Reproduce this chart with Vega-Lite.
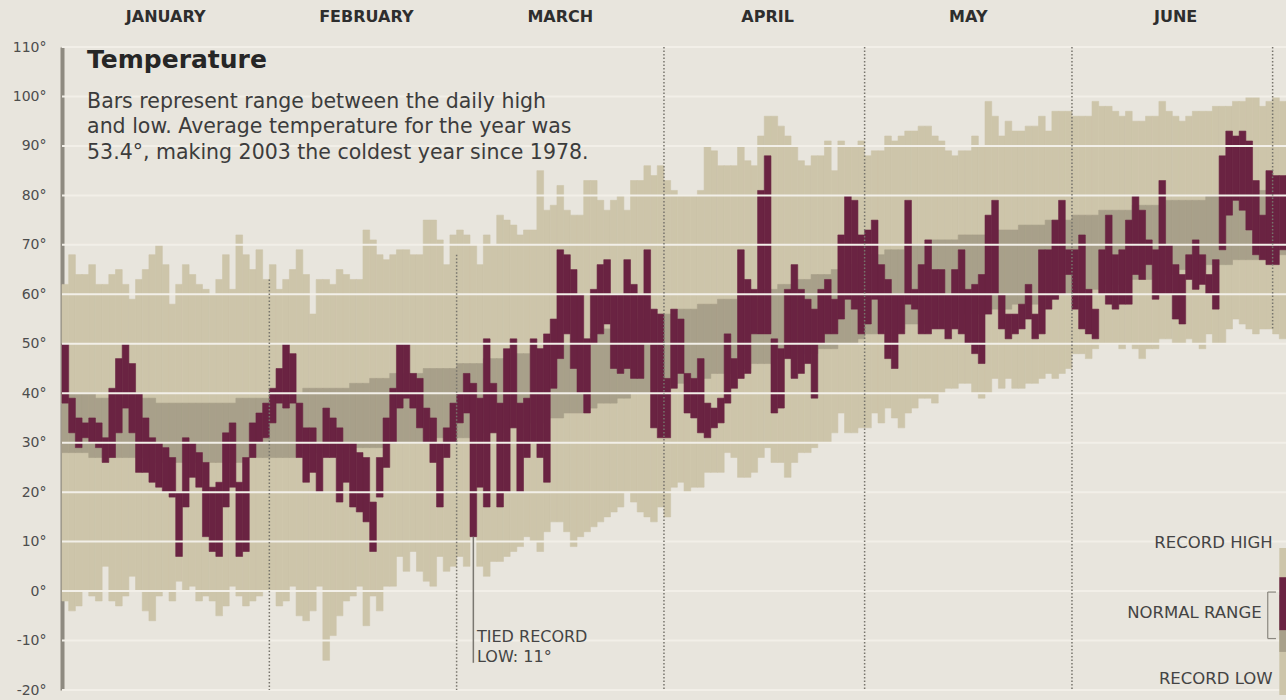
{
  "$schema": "https://vega.github.io/schema/vega-lite/v6.json",
  "width": 1224,
  "height": 643,
  "autosize": {"type": "none"},
  "padding": {"left": 62, "top": 47, "right": 0, "bottom": 10},
  "background": "#e8e5dd",
  "config": {
    "view": {"stroke": null},
    "font": "DejaVu Sans",
    "axisX": {"disable": true},
    "axisY": {
      "values": [-20,-10,0,10,20,30,40,50,60,70,80,90,100,110],
      "labelExpr": "datum.value + '°'",
      "grid": false, "ticks": false,
      "domain": true, "domainColor": "#8e8a80", "domainWidth": 4,
      "labelFont": "DejaVu Sans", "labelFontSize": 14,
      "labelColor": "#4d4d4d", "labelPadding": 16, "labelFlush": false,
      "zindex": 1
    }
  },
  "datasets": {
    "days": [
      {"d":0,"rh":62,"rl":-2,"nh":40,"nl":28,"h":50,"l":38},
      {"d":1,"rh":68,"rl":-4,"nh":40,"nl":28,"h":39,"l":32},
      {"d":2,"rh":64,"rl":-3,"nh":40,"nl":28,"h":35,"l":29},
      {"d":3,"rh":64,"rl":0,"nh":40,"nl":28,"h":34,"l":31},
      {"d":4,"rh":66,"rl":-1,"nh":40,"nl":27,"h":35,"l":30},
      {"d":5,"rh":62,"rl":-2,"nh":39,"nl":27,"h":34,"l":29},
      {"d":6,"rh":62,"rl":5,"nh":39,"nl":27,"h":31,"l":26},
      {"d":7,"rh":64,"rl":-2,"nh":39,"nl":27,"h":41,"l":27},
      {"d":8,"rh":65,"rl":-3,"nh":39,"nl":27,"h":47,"l":32},
      {"d":9,"rh":62,"rl":-1,"nh":39,"nl":27,"h":50,"l":37},
      {"d":10,"rh":59,"rl":3,"nh":39,"nl":27,"h":46,"l":32},
      {"d":11,"rh":63,"rl":0,"nh":39,"nl":27,"h":40,"l":24},
      {"d":12,"rh":65,"rl":-4,"nh":39,"nl":27,"h":35,"l":24},
      {"d":13,"rh":68,"rl":-6,"nh":39,"nl":26,"h":31,"l":22},
      {"d":14,"rh":70,"rl":-1,"nh":38,"nl":26,"h":30,"l":21},
      {"d":15,"rh":66,"rl":0,"nh":38,"nl":26,"h":29,"l":20},
      {"d":16,"rh":58,"rl":-2,"nh":38,"nl":26,"h":27,"l":19},
      {"d":17,"rh":62,"rl":2,"nh":38,"nl":26,"h":20,"l":7},
      {"d":18,"rh":66,"rl":0,"nh":38,"nl":26,"h":31,"l":17},
      {"d":19,"rh":64,"rl":1,"nh":38,"nl":26,"h":30,"l":23},
      {"d":20,"rh":62,"rl":-2,"nh":38,"nl":26,"h":28,"l":21},
      {"d":21,"rh":61,"rl":-1,"nh":38,"nl":26,"h":26,"l":11},
      {"d":22,"rh":60,"rl":-2,"nh":38,"nl":26,"h":21,"l":8},
      {"d":23,"rh":63,"rl":-5,"nh":38,"nl":26,"h":22,"l":7},
      {"d":24,"rh":68,"rl":-3,"nh":38,"nl":26,"h":32,"l":17},
      {"d":25,"rh":61,"rl":1,"nh":38,"nl":26,"h":34,"l":21},
      {"d":26,"rh":72,"rl":-1,"nh":39,"nl":26,"h":22,"l":7},
      {"d":27,"rh":68,"rl":-3,"nh":39,"nl":27,"h":27,"l":8},
      {"d":28,"rh":65,"rl":-2,"nh":39,"nl":27,"h":34,"l":27},
      {"d":29,"rh":69,"rl":-1,"nh":39,"nl":27,"h":36,"l":30},
      {"d":30,"rh":63,"rl":0,"nh":39,"nl":27,"h":38,"l":31},
      {"d":31,"rh":66,"rl":0,"nh":40,"nl":27,"h":41,"l":34},
      {"d":32,"rh":61,"rl":-3,"nh":40,"nl":27,"h":45,"l":38},
      {"d":33,"rh":63,"rl":-2,"nh":40,"nl":27,"h":50,"l":37},
      {"d":34,"rh":65,"rl":1,"nh":40,"nl":27,"h":48,"l":38},
      {"d":35,"rh":69,"rl":-5,"nh":40,"nl":28,"h":38,"l":27},
      {"d":36,"rh":64,"rl":-6,"nh":41,"nl":28,"h":33,"l":22},
      {"d":37,"rh":56,"rl":-4,"nh":41,"nl":28,"h":33,"l":24},
      {"d":38,"rh":63,"rl":1,"nh":41,"nl":28,"h":30,"l":20},
      {"d":39,"rh":63,"rl":-14,"nh":41,"nl":28,"h":37,"l":27},
      {"d":40,"rh":62,"rl":-9,"nh":41,"nl":28,"h":35,"l":27},
      {"d":41,"rh":65,"rl":-5,"nh":41,"nl":28,"h":33,"l":18},
      {"d":42,"rh":64,"rl":-2,"nh":41,"nl":29,"h":30,"l":22},
      {"d":43,"rh":63,"rl":-1,"nh":42,"nl":29,"h":30,"l":17},
      {"d":44,"rh":63,"rl":1,"nh":42,"nl":29,"h":28,"l":16},
      {"d":45,"rh":73,"rl":-7,"nh":42,"nl":29,"h":27,"l":14},
      {"d":46,"rh":71,"rl":-1,"nh":43,"nl":29,"h":18,"l":8},
      {"d":47,"rh":68,"rl":-4,"nh":43,"nl":29,"h":27,"l":19},
      {"d":48,"rh":67,"rl":1,"nh":43,"nl":30,"h":35,"l":25},
      {"d":49,"rh":68,"rl":1,"nh":44,"nl":30,"h":41,"l":30},
      {"d":50,"rh":69,"rl":7,"nh":44,"nl":30,"h":50,"l":37},
      {"d":51,"rh":69,"rl":4,"nh":44,"nl":30,"h":50,"l":39},
      {"d":52,"rh":68,"rl":8,"nh":44,"nl":30,"h":44,"l":37},
      {"d":53,"rh":68,"rl":4,"nh":44,"nl":30,"h":43,"l":33},
      {"d":54,"rh":75,"rl":2,"nh":45,"nl":31,"h":37,"l":30},
      {"d":55,"rh":75,"rl":1,"nh":45,"nl":31,"h":35,"l":26},
      {"d":56,"rh":71,"rl":7,"nh":45,"nl":31,"h":30,"l":17},
      {"d":57,"rh":66,"rl":4,"nh":45,"nl":31,"h":33,"l":27},
      {"d":58,"rh":72,"rl":5,"nh":45,"nl":31,"h":38,"l":30},
      {"d":59,"rh":73,"rl":7,"nh":46,"nl":31,"h":40,"l":34},
      {"d":60,"rh":72,"rl":5,"nh":46,"nl":31,"h":44,"l":36},
      {"d":61,"rh":70,"rl":11,"nh":46,"nl":31,"h":42,"l":11},
      {"d":62,"rh":66,"rl":5,"nh":46,"nl":32,"h":39,"l":21},
      {"d":63,"rh":72,"rl":3,"nh":47,"nl":32,"h":51,"l":17},
      {"d":64,"rh":70,"rl":6,"nh":47,"nl":32,"h":42,"l":32},
      {"d":65,"rh":76,"rl":6,"nh":47,"nl":32,"h":38,"l":17},
      {"d":66,"rh":75,"rl":7,"nh":47,"nl":33,"h":49,"l":20},
      {"d":67,"rh":74,"rl":8,"nh":48,"nl":33,"h":51,"l":33},
      {"d":68,"rh":72,"rl":9,"nh":48,"nl":33,"h":38,"l":20},
      {"d":69,"rh":73,"rl":11,"nh":48,"nl":34,"h":39,"l":27},
      {"d":70,"rh":73,"rl":10,"nh":49,"nl":34,"h":51,"l":30},
      {"d":71,"rh":85,"rl":8,"nh":49,"nl":34,"h":49,"l":27},
      {"d":72,"rh":77,"rl":12,"nh":49,"nl":35,"h":52,"l":22},
      {"d":73,"rh":78,"rl":14,"nh":50,"nl":35,"h":55,"l":41},
      {"d":74,"rh":82,"rl":14,"nh":50,"nl":35,"h":69,"l":47},
      {"d":75,"rh":77,"rl":12,"nh":50,"nl":36,"h":68,"l":52},
      {"d":76,"rh":76,"rl":9,"nh":51,"nl":36,"h":65,"l":45},
      {"d":77,"rh":76,"rl":11,"nh":51,"nl":36,"h":60,"l":40},
      {"d":78,"rh":83,"rl":12,"nh":51,"nl":37,"h":51,"l":36},
      {"d":79,"rh":83,"rl":13,"nh":52,"nl":37,"h":61,"l":50},
      {"d":80,"rh":79,"rl":14,"nh":52,"nl":38,"h":66,"l":52},
      {"d":81,"rh":77,"rl":15,"nh":53,"nl":38,"h":67,"l":54},
      {"d":82,"rh":79,"rl":16,"nh":53,"nl":38,"h":60,"l":45},
      {"d":83,"rh":80,"rl":17,"nh":53,"nl":39,"h":60,"l":44},
      {"d":84,"rh":77,"rl":20,"nh":54,"nl":39,"h":67,"l":45},
      {"d":85,"rh":83,"rl":18,"nh":54,"nl":40,"h":62,"l":43},
      {"d":86,"rh":83,"rl":16,"nh":55,"nl":40,"h":60,"l":43},
      {"d":87,"rh":86,"rl":15,"nh":55,"nl":40,"h":69,"l":50},
      {"d":88,"rh":84,"rl":14,"nh":56,"nl":41,"h":57,"l":33},
      {"d":89,"rh":86,"rl":17,"nh":56,"nl":41,"h":56,"l":31},
      {"d":90,"rh":83,"rl":15,"nh":56,"nl":42,"h":43,"l":31},
      {"d":91,"rh":81,"rl":21,"nh":56,"nl":42,"h":57,"l":41},
      {"d":92,"rh":80,"rl":22,"nh":57,"nl":42,"h":55,"l":44},
      {"d":93,"rh":80,"rl":20,"nh":57,"nl":43,"h":44,"l":36},
      {"d":94,"rh":80,"rl":21,"nh":57,"nl":43,"h":43,"l":35},
      {"d":95,"rh":81,"rl":21,"nh":58,"nl":43,"h":47,"l":32},
      {"d":96,"rh":90,"rl":24,"nh":58,"nl":43,"h":38,"l":31},
      {"d":97,"rh":89,"rl":24,"nh":58,"nl":44,"h":37,"l":33},
      {"d":98,"rh":86,"rl":24,"nh":59,"nl":44,"h":39,"l":34},
      {"d":99,"rh":86,"rl":28,"nh":59,"nl":44,"h":52,"l":38},
      {"d":100,"rh":86,"rl":27,"nh":59,"nl":45,"h":47,"l":41},
      {"d":101,"rh":90,"rl":23,"nh":60,"nl":45,"h":69,"l":43},
      {"d":102,"rh":87,"rl":23,"nh":60,"nl":45,"h":63,"l":44},
      {"d":103,"rh":86,"rl":24,"nh":60,"nl":46,"h":61,"l":52},
      {"d":104,"rh":92,"rl":27,"nh":61,"nl":46,"h":81,"l":52},
      {"d":105,"rh":96,"rl":29,"nh":61,"nl":46,"h":88,"l":52},
      {"d":106,"rh":96,"rl":26,"nh":61,"nl":47,"h":51,"l":36},
      {"d":107,"rh":94,"rl":26,"nh":62,"nl":47,"h":49,"l":37},
      {"d":108,"rh":92,"rl":23,"nh":62,"nl":47,"h":61,"l":47},
      {"d":109,"rh":90,"rl":26,"nh":62,"nl":47,"h":66,"l":43},
      {"d":110,"rh":87,"rl":28,"nh":63,"nl":48,"h":61,"l":44},
      {"d":111,"rh":86,"rl":28,"nh":63,"nl":48,"h":59,"l":46},
      {"d":112,"rh":88,"rl":29,"nh":64,"nl":48,"h":57,"l":39},
      {"d":113,"rh":88,"rl":30,"nh":64,"nl":49,"h":61,"l":50},
      {"d":114,"rh":91,"rl":30,"nh":64,"nl":49,"h":63,"l":52},
      {"d":115,"rh":85,"rl":32,"nh":65,"nl":49,"h":59,"l":52},
      {"d":116,"rh":91,"rl":36,"nh":65,"nl":50,"h":72,"l":55},
      {"d":117,"rh":90,"rl":32,"nh":66,"nl":50,"h":80,"l":59},
      {"d":118,"rh":90,"rl":32,"nh":66,"nl":50,"h":79,"l":57},
      {"d":119,"rh":91,"rl":33,"nh":67,"nl":51,"h":72,"l":52},
      {"d":120,"rh":88,"rl":33,"nh":68,"nl":52,"h":73,"l":54},
      {"d":121,"rh":89,"rl":36,"nh":68,"nl":52,"h":75,"l":59},
      {"d":122,"rh":89,"rl":34,"nh":68,"nl":53,"h":66,"l":52},
      {"d":123,"rh":92,"rl":37,"nh":69,"nl":53,"h":63,"l":47},
      {"d":124,"rh":91,"rl":35,"nh":69,"nl":53,"h":60,"l":45},
      {"d":125,"rh":92,"rl":33,"nh":69,"nl":53,"h":60,"l":52},
      {"d":126,"rh":93,"rl":36,"nh":70,"nl":54,"h":79,"l":58},
      {"d":127,"rh":93,"rl":37,"nh":70,"nl":54,"h":61,"l":57},
      {"d":128,"rh":94,"rl":39,"nh":70,"nl":54,"h":66,"l":52},
      {"d":129,"rh":94,"rl":39,"nh":70,"nl":54,"h":71,"l":52},
      {"d":130,"rh":92,"rl":38,"nh":71,"nl":55,"h":65,"l":53},
      {"d":131,"rh":91,"rl":40,"nh":71,"nl":55,"h":65,"l":53},
      {"d":132,"rh":89,"rl":41,"nh":71,"nl":55,"h":60,"l":51},
      {"d":133,"rh":88,"rl":41,"nh":71,"nl":55,"h":65,"l":53},
      {"d":134,"rh":89,"rl":42,"nh":72,"nl":56,"h":69,"l":52},
      {"d":135,"rh":89,"rl":42,"nh":72,"nl":56,"h":61,"l":50},
      {"d":136,"rh":92,"rl":40,"nh":72,"nl":56,"h":62,"l":48},
      {"d":137,"rh":90,"rl":39,"nh":72,"nl":56,"h":64,"l":46},
      {"d":138,"rh":99,"rl":40,"nh":72,"nl":57,"h":76,"l":56},
      {"d":139,"rh":96,"rl":43,"nh":73,"nl":57,"h":79,"l":60},
      {"d":140,"rh":92,"rl":41,"nh":73,"nl":57,"h":60,"l":53},
      {"d":141,"rh":95,"rl":43,"nh":73,"nl":57,"h":56,"l":51},
      {"d":142,"rh":93,"rl":41,"nh":73,"nl":58,"h":56,"l":52},
      {"d":143,"rh":93,"rl":41,"nh":74,"nl":58,"h":58,"l":53},
      {"d":144,"rh":94,"rl":42,"nh":74,"nl":58,"h":62,"l":55},
      {"d":145,"rh":94,"rl":42,"nh":74,"nl":58,"h":56,"l":51},
      {"d":146,"rh":96,"rl":43,"nh":74,"nl":59,"h":69,"l":52},
      {"d":147,"rh":93,"rl":44,"nh":75,"nl":59,"h":69,"l":57},
      {"d":148,"rh":97,"rl":43,"nh":75,"nl":59,"h":75,"l":59},
      {"d":149,"rh":97,"rl":44,"nh":75,"nl":60,"h":79,"l":60},
      {"d":150,"rh":97,"rl":45,"nh":75,"nl":60,"h":69,"l":64},
      {"d":151,"rh":96,"rl":48,"nh":76,"nl":61,"h":69,"l":57},
      {"d":152,"rh":96,"rl":48,"nh":76,"nl":61,"h":72,"l":53},
      {"d":153,"rh":96,"rl":47,"nh":76,"nl":61,"h":61,"l":52},
      {"d":154,"rh":99,"rl":49,"nh":76,"nl":61,"h":57,"l":51},
      {"d":155,"rh":98,"rl":50,"nh":77,"nl":62,"h":69,"l":60},
      {"d":156,"rh":98,"rl":50,"nh":77,"nl":62,"h":76,"l":58},
      {"d":157,"rh":97,"rl":50,"nh":77,"nl":62,"h":68,"l":57},
      {"d":158,"rh":96,"rl":49,"nh":77,"nl":62,"h":69,"l":58},
      {"d":159,"rh":97,"rl":50,"nh":77,"nl":63,"h":75,"l":58},
      {"d":160,"rh":95,"rl":49,"nh":78,"nl":63,"h":80,"l":64},
      {"d":161,"rh":95,"rl":47,"nh":78,"nl":63,"h":77,"l":63},
      {"d":162,"rh":96,"rl":49,"nh":78,"nl":63,"h":71,"l":66},
      {"d":163,"rh":96,"rl":49,"nh":78,"nl":64,"h":69,"l":59},
      {"d":164,"rh":99,"rl":51,"nh":78,"nl":64,"h":83,"l":60},
      {"d":165,"rh":97,"rl":51,"nh":79,"nl":64,"h":70,"l":60},
      {"d":166,"rh":96,"rl":50,"nh":79,"nl":64,"h":66,"l":55},
      {"d":167,"rh":95,"rl":50,"nh":79,"nl":65,"h":64,"l":54},
      {"d":168,"rh":96,"rl":51,"nh":79,"nl":65,"h":68,"l":63},
      {"d":169,"rh":97,"rl":50,"nh":79,"nl":65,"h":71,"l":61},
      {"d":170,"rh":97,"rl":49,"nh":79,"nl":65,"h":68,"l":62},
      {"d":171,"rh":97,"rl":52,"nh":80,"nl":66,"h":64,"l":60},
      {"d":172,"rh":98,"rl":50,"nh":80,"nl":66,"h":67,"l":57},
      {"d":173,"rh":98,"rl":50,"nh":80,"nl":66,"h":88,"l":69},
      {"d":174,"rh":98,"rl":53,"nh":80,"nl":66,"h":93,"l":76},
      {"d":175,"rh":99,"rl":55,"nh":80,"nl":67,"h":92,"l":79},
      {"d":176,"rh":99,"rl":54,"nh":80,"nl":67,"h":93,"l":77},
      {"d":177,"rh":100,"rl":53,"nh":81,"nl":67,"h":91,"l":73},
      {"d":178,"rh":100,"rl":52,"nh":81,"nl":67,"h":83,"l":68},
      {"d":179,"rh":98,"rl":53,"nh":81,"nl":67,"h":76,"l":67},
      {"d":180,"rh":99,"rl":53,"nh":81,"nl":68,"h":85,"l":66},
      {"d":181,"rh":100,"rl":52,"nh":81,"nl":68,"h":84,"l":66},
      {"d":182,"rh":99,"rl":51,"nh":81,"nl":68,"h":84,"l":69}
    ],
    "months": [
      {"month":"JANUARY","start":0,"mid":15},
      {"month":"FEBRUARY","start":31,"mid":45},
      {"month":"MARCH","start":59,"mid":74},
      {"month":"APRIL","start":90,"mid":105},
      {"month":"MAY","start":120,"mid":135},
      {"month":"JUNE","start":151,"mid":166},
      {"month":"JULY","start":181,"mid":null}
    ],
    "grid": [
      {"t":-20},{"t":-10},{"t":0},{"t":10},{"t":20},{"t":30},{"t":40},
      {"t":50},{"t":60},{"t":70},{"t":80},{"t":90},{"t":100},{"t":110}
    ]
  },
  "layer": [
    {
      "data": {"name": "days"},
      "mark": {"type": "bar", "color": "#cdc5aa", "stroke": "#cdc5aa", "strokeWidth": 0.6},
      "encoding": {
        "x": {
          "field": "d", "type": "ordinal",
          "scale": {
            "paddingInner": 0, "paddingOuter": 0,
            "domain": [0,1,2,3,4,5,6,7,8,9,10,11,12,13,14,15,16,17,18,19,20,21,22,23,24,25,26,27,28,29,30,31,32,33,34,35,36,37,38,39,40,41,42,43,44,45,46,47,48,49,50,51,52,53,54,55,56,57,58,59,60,61,62,63,64,65,66,67,68,69,70,71,72,73,74,75,76,77,78,79,80,81,82,83,84,85,86,87,88,89,90,91,92,93,94,95,96,97,98,99,100,101,102,103,104,105,106,107,108,109,110,111,112,113,114,115,116,117,118,119,120,121,122,123,124,125,126,127,128,129,130,131,132,133,134,135,136,137,138,139,140,141,142,143,144,145,146,147,148,149,150,151,152,153,154,155,156,157,158,159,160,161,162,163,164,165,166,167,168,169,170,171,172,173,174,175,176,177,178,179,180,181,182]
          }
        },
        "y": {
          "field": "rl", "type": "quantitative",
          "scale": {"domain": [-20, 110], "nice": false, "zero": false},
          "axis": {"title": null}
        },
        "y2": {"field": "rh"}
      }
    },
    {
      "data": {"name": "days"},
      "mark": {"type": "bar", "color": "#a8a08a", "stroke": "#a8a08a", "strokeWidth": 0.6},
      "encoding": {
        "x": {"field": "d", "type": "ordinal"},
        "y": {"field": "nl", "type": "quantitative", "axis": {"title": null}},
        "y2": {"field": "nh"}
      }
    },
    {
      "data": {"name": "days"},
      "mark": {"type": "bar", "color": "#6a2342", "stroke": "#6a2342", "strokeWidth": 0.6},
      "encoding": {
        "x": {"field": "d", "type": "ordinal"},
        "y": {"field": "l", "type": "quantitative", "axis": {"title": null}},
        "y2": {"field": "h"}
      }
    },
    {
      "data": {"name": "grid"},
      "mark": {"type": "rule", "color": "#f2efe8", "strokeWidth": 2},
      "encoding": {
        "y": {"field": "t", "type": "quantitative", "axis": {"title": null}}
      }
    },
    {
      "data": {"name": "months"},
      "transform": [{"filter": "datum.month == 'APRIL' || datum.month == 'MAY' || datum.month == 'JUNE'"}],
      "mark": {"type": "rule", "color": "#77746c", "strokeWidth": 1.5, "strokeDash": [1.5, 2]},
      "encoding": {
        "x": {"field": "start", "type": "ordinal", "bandPosition": 0},
        "y": {"datum": 110, "axis": {"title": null}},
        "y2": {"datum": -20}
      }
    },
    {
      "data": {"name": "months"},
      "transform": [{"filter": "datum.month == 'FEBRUARY'"}],
      "mark": {"type": "rule", "color": "#77746c", "strokeWidth": 1.5, "strokeDash": [1.5, 2]},
      "encoding": {
        "x": {"field": "start", "type": "ordinal", "bandPosition": 0},
        "y": {"datum": 63, "axis": {"title": null}},
        "y2": {"datum": -20}
      }
    },
    {
      "data": {"name": "months"},
      "transform": [{"filter": "datum.month == 'MARCH'"}],
      "mark": {"type": "rule", "color": "#77746c", "strokeWidth": 1.5, "strokeDash": [1.5, 2]},
      "encoding": {
        "x": {"field": "start", "type": "ordinal", "bandPosition": 0},
        "y": {"datum": 68, "axis": {"title": null}},
        "y2": {"datum": -20}
      }
    },
    {
      "data": {"name": "months"},
      "transform": [{"filter": "datum.month == 'JULY'"}],
      "mark": {"type": "rule", "color": "#77746c", "strokeWidth": 1.5, "strokeDash": [1.5, 2]},
      "encoding": {
        "x": {"field": "start", "type": "ordinal", "bandPosition": 0},
        "y": {"datum": 110, "axis": {"title": null}},
        "y2": {"datum": 53}
      }
    },
    {
      "data": {"name": "months"},
      "transform": [{"filter": "datum.mid != null"}],
      "mark": {"type": "text", "fontSize": 16, "fontWeight": "bold", "color": "#2e2e2e", "align": "center", "baseline": "middle"},
      "encoding": {
        "x": {"field": "mid", "type": "ordinal", "bandPosition": 0.5},
        "y": {"datum": 116, "axis": {"title": null}},
        "text": {"field": "month"}
      }
    },
    {
      "data": {"values": [{}]},
      "mark": {"type": "text", "text": "Temperature", "fontSize": 25, "fontWeight": "bold", "color": "#262626", "align": "left", "baseline": "middle", "dx": 5},
      "encoding": {
        "x": {"datum": 3, "type": "ordinal", "bandPosition": 0},
        "y": {"datum": 107.4, "axis": {"title": null}}
      }
    },
    {
      "data": {"values": [{}]},
      "mark": {"type": "text", "text": ["Bars represent range between the daily high", "and low. Average temperature for the year was", "53.4°, making 2003 the coldest year since 1978."], "fontSize": 20.5, "lineHeight": 25.5, "color": "#3c3c3c", "align": "left", "baseline": "middle", "dx": 5},
      "encoding": {
        "x": {"datum": 3, "type": "ordinal", "bandPosition": 0},
        "y": {"datum": 98.9, "axis": {"title": null}}
      }
    },
    {
      "data": {"values": [{}]},
      "mark": {"type": "rule", "color": "#7a7770", "strokeWidth": 1.5},
      "encoding": {
        "x": {"datum": 61, "type": "ordinal", "bandPosition": 0.5},
        "y": {"datum": 11, "axis": {"title": null}},
        "y2": {"datum": -14.5}
      }
    },
    {
      "data": {"values": [{}]},
      "mark": {"type": "text", "text": ["TIED RECORD", "LOW: 11°"], "fontSize": 16, "lineHeight": 20, "color": "#444444", "align": "left", "baseline": "middle", "dx": 7},
      "encoding": {
        "x": {"datum": 61, "type": "ordinal", "bandPosition": 0},
        "y": {"datum": -9.3, "axis": {"title": null}}
      }
    },
    {
      "data": {"values": [{}]},
      "mark": {"type": "bar", "color": "#cdc5aa"},
      "encoding": {
        "x": {"datum": 182, "type": "ordinal"},
        "y": {"datum": 8.7, "axis": {"title": null}},
        "y2": {"datum": -21}
      }
    },
    {
      "data": {"values": [{}]},
      "mark": {"type": "bar", "color": "#a8a08a"},
      "encoding": {
        "x": {"datum": 182, "type": "ordinal"},
        "y": {"datum": -0.8, "axis": {"title": null}},
        "y2": {"datum": -12.3}
      }
    },
    {
      "data": {"values": [{}]},
      "mark": {"type": "bar", "color": "#6a2342"},
      "encoding": {
        "x": {"datum": 182, "type": "ordinal"},
        "y": {"datum": 2.8, "axis": {"title": null}},
        "y2": {"datum": -7.9}
      }
    },
    {
      "data": {"values": [{}]},
      "mark": {"type": "rule", "color": "#8a877f", "strokeWidth": 1.2},
      "encoding": {
        "x": {"datum": 180, "type": "ordinal", "bandPosition": 0.27},
        "y": {"datum": -0.2, "axis": {"title": null}},
        "y2": {"datum": -9.6}
      }
    },
    {
      "data": {"values": [{"t": -0.2}, {"t": -9.6}]},
      "mark": {"type": "rule", "color": "#8a877f", "strokeWidth": 1.2},
      "encoding": {
        "x": {"datum": 180, "type": "ordinal", "bandPosition": 0.27},
        "x2": {"datum": 181},
        "y": {"field": "t", "type": "quantitative", "axis": {"title": null}}
      }
    },
    {
      "data": {"values": [{}]},
      "mark": {"type": "text", "text": "RECORD HIGH", "fontSize": 16.5, "color": "#444444", "align": "right", "baseline": "middle"},
      "encoding": {
        "x": {"datum": 181, "type": "ordinal", "bandPosition": 0},
        "y": {"datum": 9.7, "axis": {"title": null}}
      }
    },
    {
      "data": {"values": [{}]},
      "mark": {"type": "text", "text": "NORMAL RANGE", "fontSize": 16.5, "color": "#444444", "align": "right", "baseline": "middle", "dx": -11},
      "encoding": {
        "x": {"datum": 181, "type": "ordinal", "bandPosition": 0},
        "y": {"datum": -4.4, "axis": {"title": null}}
      }
    },
    {
      "data": {"values": [{}]},
      "mark": {"type": "text", "text": "RECORD LOW", "fontSize": 16.5, "color": "#444444", "align": "right", "baseline": "middle"},
      "encoding": {
        "x": {"datum": 181, "type": "ordinal", "bandPosition": 0},
        "y": {"datum": -17.8, "axis": {"title": null}}
      }
    }
  ]
}
